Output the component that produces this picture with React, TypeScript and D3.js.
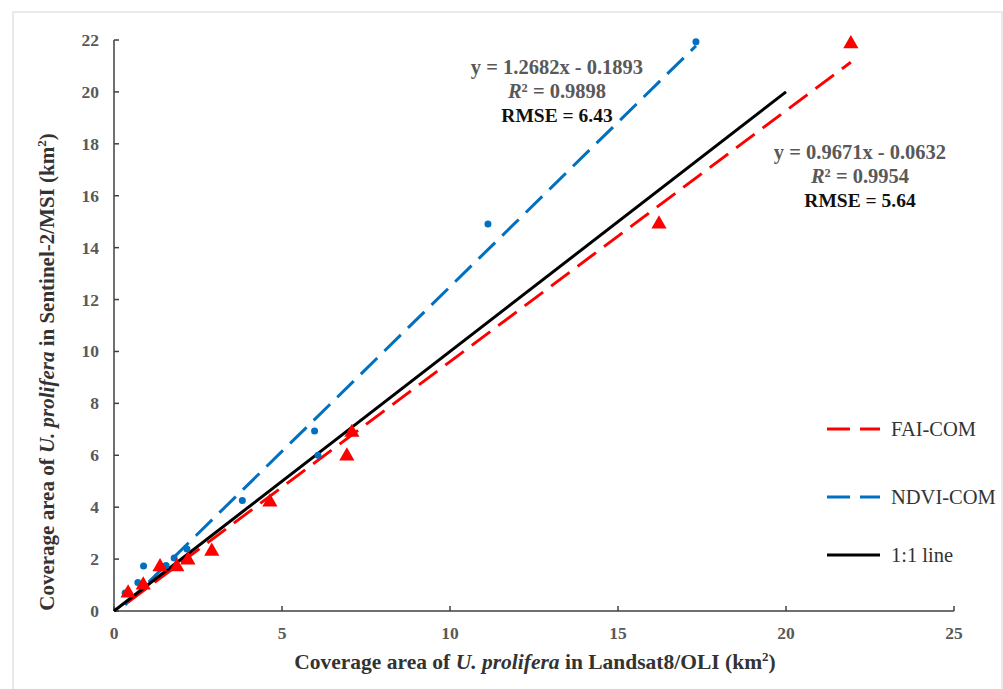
import * as d3 from 'd3'

// Landsat8/OLI (x) vs Sentinel-2/MSI (y) coverage areas, km2
const faiX = [0.42, 0.87, 1.37, 1.87, 2.2, 2.91, 4.64, 6.93, 7.08, 16.22, 21.93]
const faiY = [0.69, 1.0, 1.7, 1.7, 1.96, 2.3, 4.2, 5.97, 6.88, 14.91, 21.85]
const ndviX = [0.33, 0.71, 0.88, 1.55, 1.79, 2.17, 3.82, 5.97, 6.07, 11.13, 17.32]
const ndviY = [0.69, 1.1, 1.73, 1.75, 2.04, 2.39, 4.26, 6.94, 6.0, 14.91, 21.93]

const xTicks = [0, 5, 10, 15, 20, 25]
const yTicks = [0, 2, 4, 6, 8, 10, 12, 14, 16, 18, 20, 22]

const ndviFit = { slope: 1.2682, icpt: -0.1893, r2: '0.9898', rmse: '6.43' }
const faiFit = { slope: 0.9671, icpt: -0.0632, r2: '0.9954', rmse: '5.64' }
const oneToOne = [0, 20]

const legendItems = [
  { name: 'FAI-COM', color: '#ff0000', dash: '23 10' },
  { name: 'NDVI-COM', color: '#0070c0', dash: '23 10' },
  { name: '1:1 line', color: '#000000', dash: null },
]

const font = '"Liberation Serif", "Times New Roman", serif'
const grey = '#595959'

const App = () => {
  const width = 1003, height = 689
  const x = d3.scaleLinear().domain([0, 25]).range([114, 954])
  const y = d3.scaleLinear().domain([0, 22]).range([611, 40])
  const line = d3.line<[number, number]>().x(d => x(d[0])).y(d => y(d[1]))
  const tri = d3.symbol().type(d3.symbolTriangle).size(100)()

  const fitLine = (fit: typeof ndviFit, xs: number[]) => {
    const x0 = d3.min(xs) as number, x1 = d3.max(xs) as number
    return line([[x0, fit.slope * x0 + fit.icpt], [x1, fit.slope * x1 + fit.icpt]])
  }

  const eq = (fit: typeof ndviFit) =>
    `y = ${fit.slope.toFixed(4)}x - ${Math.abs(fit.icpt).toFixed(4)}`

  const annot = (fit: typeof ndviFit, cx: number, top: number) => (
    <g fontFamily={font} fontWeight="bold" fontSize={20.5} textAnchor="middle">
      <text x={cx} y={top} fill={grey}>{eq(fit)}</text>
      <text x={cx} y={top + 24} fill={grey}>
        <tspan fontStyle="italic">R</tspan>² = {fit.r2}
      </text>
      <text x={cx} y={top + 48} fill="#111" fontSize={19.5}>RMSE = {fit.rmse}</text>
    </g>
  )

  return (
    <svg width={width} height={height} style={{ position: 'absolute', left: 0, top: 0, background: '#fff' }}>
      <rect x={13} y={12} width={989} height={700} fill="none" stroke="#e3e3e3" strokeWidth={1.5} />

      {/* axes */}
      <g stroke="#404040" strokeWidth={1.5} fill="none">
        <line x1={x(0)} x2={x(25)} y1={y(0)} y2={y(0)} />
        <line x1={x(0)} x2={x(0)} y1={y(0)} y2={y(22)} />
        {xTicks.map(t => <line key={t} x1={x(t)} x2={x(t)} y1={y(0)} y2={y(0) - 5} />)}
        {yTicks.map(t => <line key={t} x1={x(0)} x2={x(0) + 5} y1={y(t)} y2={y(t)} />)}
      </g>
      <g fontFamily={font} fontWeight="bold" fontSize={17.5} fill={grey}>
        {xTicks.map(t => (
          <text key={t} x={x(t)} y={639} textAnchor="middle">{t}</text>
        ))}
        {yTicks.map(t => (
          <text key={t} x={99} y={y(t) + 6} textAnchor="end">{t}</text>
        ))}
      </g>

      {/* axis titles */}
      <text x={535} y={669} textAnchor="middle" fontFamily={font} fontWeight="bold" fontSize={21.5} fill="#333">
        Coverage area of <tspan fontStyle="italic">U. prolifera</tspan> in Landsat8/OLI (km<tspan fontSize={13} dy={-8}>2</tspan><tspan dy={8}>)</tspan>
      </text>
      <text transform="translate(54,372) rotate(-90)" textAnchor="middle" fontFamily={font} fontWeight="bold" fontSize={21} fill="#333">
        Coverage area of <tspan fontStyle="italic">U. prolifera</tspan> in Sentinel-2/MSI (km<tspan fontSize={13} dy={-8}>2</tspan><tspan dy={8}>)</tspan>
      </text>

      {/* trend lines */}
      <path d={fitLine(ndviFit, ndviX) ?? ''} fill="none" stroke="#0070c0" strokeWidth={3} strokeDasharray="23 10" />
      <path d={fitLine(faiFit, faiX) ?? ''} fill="none" stroke="#ff0000" strokeWidth={3} strokeDasharray="23 10" />
      <path d={line([[oneToOne[0], oneToOne[0]], [oneToOne[1], oneToOne[1]]]) ?? ''} fill="none" stroke="#000" strokeWidth={3} />

      {/* points */}
      {ndviX.map((v, i) => (
        <circle key={'n' + i} cx={x(v)} cy={y(ndviY[i])} r={3.5} fill="#0070c0" />
      ))}
      {faiX.map((v, i) => (
        <path key={'f' + i} d={tri ?? ''} transform={`translate(${x(v)},${y(faiY[i])})`} fill="#ff0000" />
      ))}

      {annot(ndviFit, 557, 74)}
      {annot(faiFit, 860, 159)}

      {/* legend */}
      <g fontFamily={font} fontSize={20.5} fill="#333">
        {legendItems.map((d, i) => {
          const ly = [429, 497, 555][i]
          return (
            <g key={d.name}>
              <line x1={827} x2={880} y1={ly} y2={ly} stroke={d.color} strokeWidth={3}
                strokeDasharray={d.dash ?? undefined} />
              <text x={891} y={ly + 7}>{d.name}</text>
            </g>
          )
        })}
      </g>
    </svg>
  )
}

export default App
